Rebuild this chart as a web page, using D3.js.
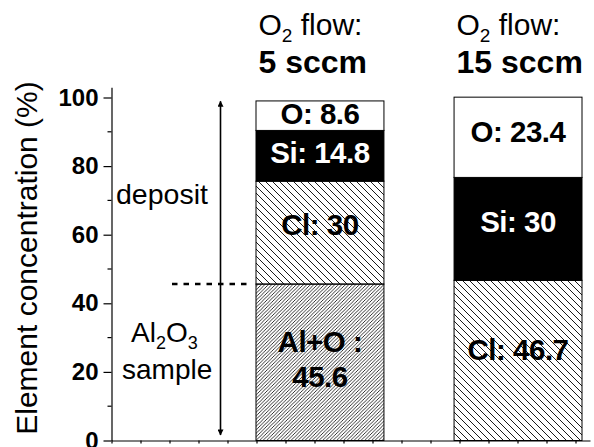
<!DOCTYPE html>
<html>
<head>
<meta charset="utf-8">
<script src="https://cdn.jsdelivr.net/npm/d3@7"></script>
<style>
  body { margin: 0; background: #fff; }
  svg { display: block; }
  text { font-family: "Liberation Sans", Arial, Helvetica, sans-serif; }
</style>
</head>
<body>
<div class="chart"></div>
<script>
// values
let groups = ["5 sccm", "15 sccm"];
let names5 = ["Al+O", "Cl", "Si", "O"];
let values5 = [45.6, 30, 14.8, 8.6];
let names15 = ["Cl", "Si", "O"];
let values15 = [46.7, 30, 23.4];
let yTicks = [0, 20, 40, 60, 80, 100];
let yMinor = [10, 30, 50, 70, 90];

let width = 594, height = 447;

let svg = d3.select(".chart")
  .append("svg")
  .attr("width", width)
  .attr("height", height);

// hatch patterns
let defs = svg.append("defs");
defs.append("pattern")
  .attr("id", "hatchWide")
  .attr("patternUnits", "userSpaceOnUse")
  .attr("width", 7).attr("height", 7)
  .append("path")
  .attr("d", "M-1,-1 L8,8 M-1,6 L1,8 M6,-1 L8,1")
  .attr("stroke", "#000")
  .attr("stroke-width", 0.9);
defs.append("pattern")
  .attr("id", "hatchFine")
  .attr("patternUnits", "userSpaceOnUse")
  .attr("width", 3.5).attr("height", 3.5)
  .append("path")
  .attr("d", "M-1,4.5 L4.5,-1 M-1,1 L1,-1 M2.5,4.5 L4.5,2.5")
  .attr("stroke", "#000")
  .attr("stroke-width", 0.8);

let fills = {"Al+O": "url(#hatchFine)", "Cl": "url(#hatchWide)", "Si": "#000", "O": "#fff"};

let y = d3.scaleLinear()
  .domain([0, 103])
  .range([440.5, 440.5 - 103 * 3.43]);

let x = d3.scaleBand()
  .domain(groups)
  .range([256, 582])
  .paddingInner(0.354)
  .paddingOuter(0);

// plain tick axis along the bottom
let xTicks = d3.scaleLinear()
  .domain([0, 16.5])
  .range([111.5, 590]);

svg.append("g")
  .attr("transform", "translate(0," + y(0) + ")")
  .call(d3.axisBottom(xTicks).ticks(16).tickSize(3).tickSizeOuter(0).tickFormat(""))
  .call(g => g.selectAll("line,path").attr("stroke", "#000").attr("stroke-width", 1.2));

// y axis
let yAxis = svg.append("g")
  .attr("transform", "translate(111.5,0)");
yAxis.call(d3.axisLeft(y).tickValues(yTicks).tickSize(8).tickSizeOuter(0).tickPadding(5))
  .call(g => g.selectAll("path,line").attr("stroke", "#000").attr("stroke-width", 1.2))
  .call(g => g.selectAll("text")
    .attr("font-size", 24).attr("font-weight", "bold").attr("fill", "#000")
    .attr("font-family", "Liberation Sans, Arial, sans-serif"));
yAxis.selectAll(".minor")
  .data(yMinor)
  .enter()
  .append("line")
  .attr("x1", -4).attr("x2", 0)
  .attr("y1", d => y(d)).attr("y2", d => y(d))
  .attr("stroke", "#000").attr("stroke-width", 1.2);

svg.append("text")
  .attr("transform", "translate(37," + 258 + ") rotate(-90)")
  .attr("text-anchor", "middle")
  .attr("font-size", 30)
  .text("Element concentration (%)");

// stacked bars
function stack(names, values) {
  let base = 0;
  return names.map((n, i) => {
    let seg = {name: n, v: values[i], y0: base, y1: base + values[i]};
    base += values[i];
    return seg;
  });
}
let stacks = [stack(names5, values5), stack(names15, values15)];

stacks.forEach((segs, gi) => {
  let g = svg.append("g");
  let bx = x(groups[gi]);
  g.selectAll("rect")
    .data(segs)
    .enter()
    .append("rect")
    .attr("x", bx)
    .attr("y", d => y(d.y1))
    .attr("width", x.bandwidth())
    .attr("height", d => y(d.y0) - y(d.y1))
    .attr("fill", d => fills[d.name])
    .attr("stroke", "#000")
    .attr("stroke-width", 1);

  segs.forEach(d => {
    let h = y(d.y0) - y(d.y1);
    let cy = (y(d.y0) + y(d.y1)) / 2 - Math.min(11, h * 0.08);
    let t = g.append("text")
      .attr("x", bx + x.bandwidth() / 2)
      .attr("text-anchor", "middle")
      .attr("font-size", 29.5)
      .attr("font-weight", "bold")
      .attr("letter-spacing", -0.5)
      .attr("fill", d.name == "Si" ? "#fff" : "#000");
    if (d.name == "Al+O") {
      t.append("tspan").attr("x", bx + x.bandwidth() / 2).attr("y", cy + 1).text("Al+O :");
      t.append("tspan").attr("x", bx + x.bandwidth() / 2).attr("y", cy + 36).text(d.v);
    } else {
      t.attr("y", cy + 11).text(d.name + ": " + d.v);
    }
  });

  // header above bar
  let hx = bx + x.bandwidth() / 2 - 61.5;
  let h1 = svg.append("text").attr("x", hx).attr("y", 35).attr("font-size", 30);
  h1.append("tspan").text("O");
  h1.append("tspan").attr("font-size", 19).attr("dy", 7).text("2");
  h1.append("tspan").attr("dy", -7).text(" flow:");
  svg.append("text").attr("x", hx).attr("y", 73)
    .attr("font-size", 32).attr("font-weight", "bold")
    .text(groups[gi]);
});

// annotations: deposit / sample arrow and dashed divider
svg.append("defs").append("marker")
  .attr("id", "head")
  .attr("viewBox", "0 0 10 10")
  .attr("refX", 9).attr("refY", 5)
  .attr("markerWidth", 12).attr("markerHeight", 6)
  .attr("markerUnits", "userSpaceOnUse")
  .attr("orient", "auto-start-reverse")
  .append("path")
  .attr("d", "M0,0 L10,5 L0,10 Z")
  .attr("fill", "#000");

svg.append("line")
  .attr("x1", 220.5).attr("x2", 220.5)
  .attr("y1", y(98.9)).attr("y2", y(1.6))
  .attr("stroke", "#000").attr("stroke-width", 1.6)
  .attr("marker-start", "url(#head)")
  .attr("marker-end", "url(#head)");

svg.append("line")
  .attr("x1", 172).attr("x2", 250)
  .attr("y1", y(values5[0])).attr("y2", y(values5[0]))
  .attr("stroke", "#000").attr("stroke-width", 2.5)
  .attr("stroke-dasharray", "5.5,6");

svg.append("text")
  .attr("x", 116).attr("y", 204)
  .attr("font-size", 28.5)
  .text("deposit");

let al = svg.append("text").attr("x", 131).attr("y", 342).attr("font-size", 28);
al.append("tspan").text("Al");
al.append("tspan").attr("font-size", 18).attr("dy", 7).text("2");
al.append("tspan").attr("dy", -7).text("O");
al.append("tspan").attr("font-size", 18).attr("dy", 7).text("3");
svg.append("text")
  .attr("x", 122).attr("y", 379)
  .attr("font-size", 28)
  .text("sample");
</script>
</body>
</html>
